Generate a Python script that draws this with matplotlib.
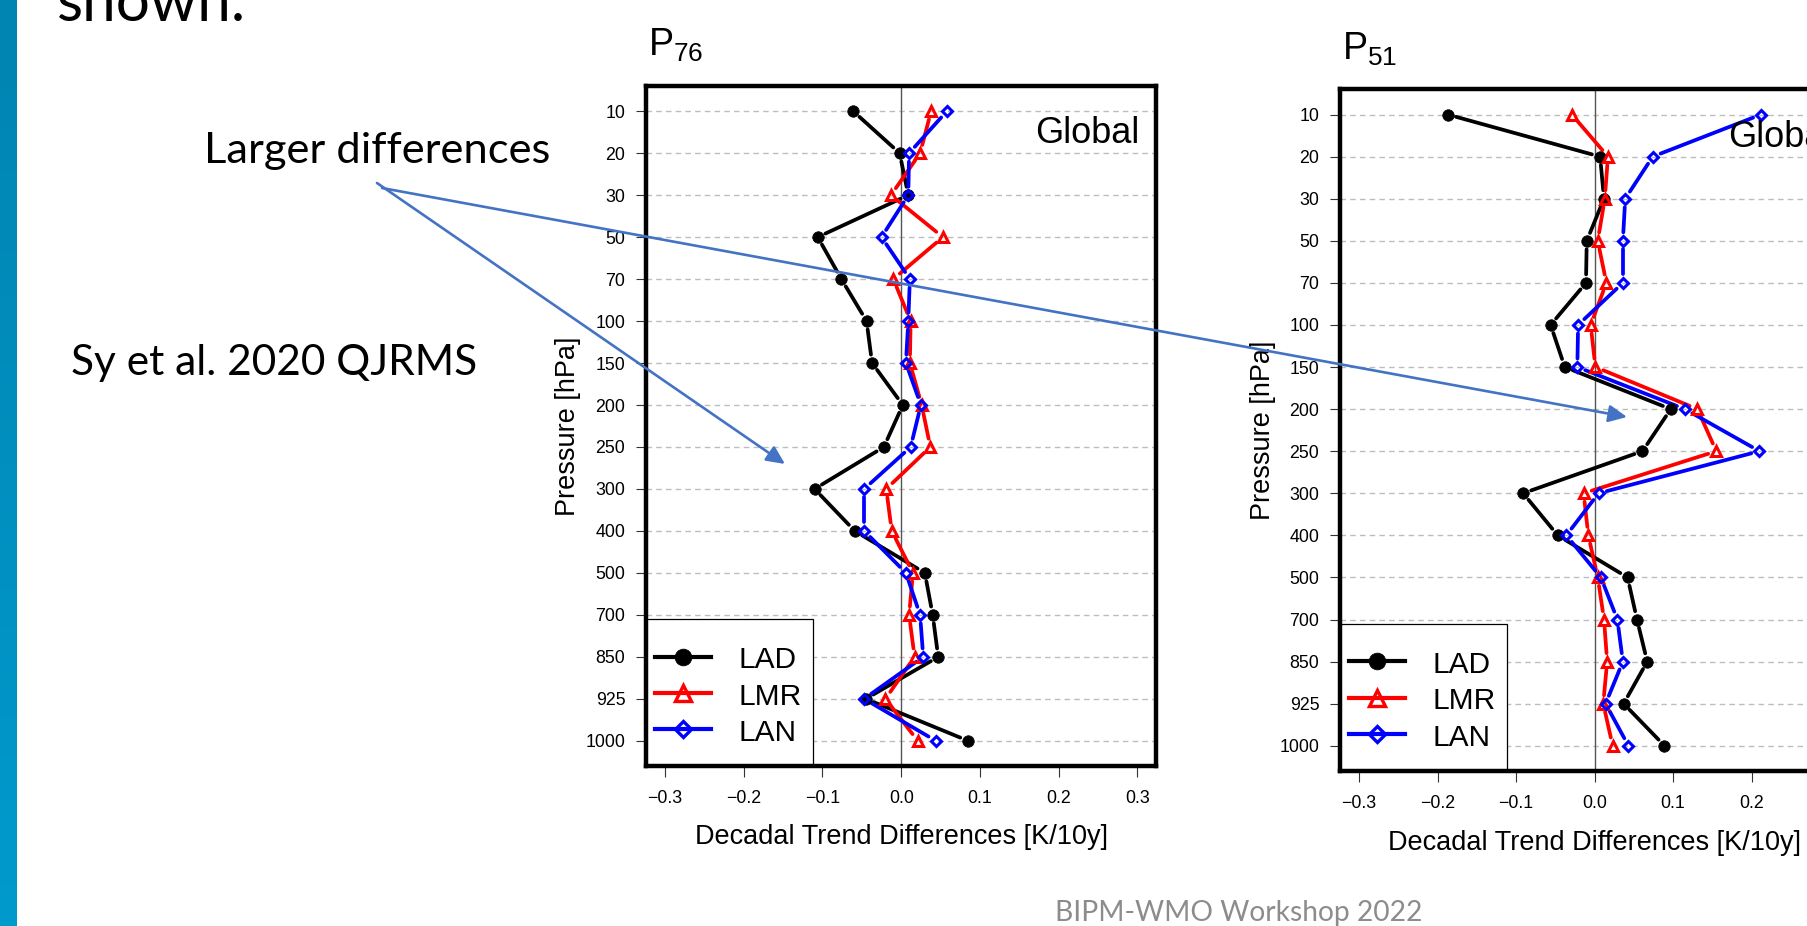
import numpy as np
import matplotlib
matplotlib.use("Agg")
import matplotlib.pyplot as plt
from matplotlib.collections import LineCollection
from matplotlib.patches import Rectangle, FancyArrowPatch
from matplotlib.colors import LinearSegmentedColormap

plt.rcParams['font.family'] = ['Liberation Sans', 'DejaVu Sans']

# pressure levels (hPa), top to bottom
levels = [10, 20, 30, 50, 70, 100, 150, 200, 250, 300, 400, 500, 700, 850, 925, 1000]

# decadal trend differences [K/10y]
p76_lad = [-0.061, -0.002, 0.009, -0.106, -0.076, -0.044, -0.037, 0.002,
           -0.022, -0.110, -0.059, 0.030, 0.040, 0.047, -0.045, 0.085]
p76_lmr = [0.038, 0.024, -0.013, 0.053, -0.010, 0.012, 0.011, 0.026,
           0.037, -0.019, -0.012, 0.015, 0.010, 0.017, -0.020, 0.021]
p76_lan = [0.058, 0.010, 0.009, -0.025, 0.011, 0.009, 0.006, 0.025,
           0.012, -0.047, -0.047, 0.006, 0.024, 0.028, -0.047, 0.044]

p51_lad = [-0.187, 0.007, 0.012, -0.010, -0.011, -0.056, -0.038, 0.097,
           0.061, -0.091, -0.047, 0.042, 0.054, 0.067, 0.037, 0.089]
p51_lmr = [-0.029, 0.017, 0.013, 0.004, 0.015, -0.005, 0.001, 0.131,
           0.155, -0.014, -0.008, 0.004, 0.012, 0.016, 0.011, 0.023]
p51_lan = [0.212, 0.074, 0.039, 0.036, 0.036, -0.021, -0.022, 0.115,
           0.210, 0.005, -0.036, 0.008, 0.029, 0.036, 0.014, 0.043]

names = ['LAD', 'LMR', 'LAN']
colors = ['black', 'red', 'blue']
markers = ['o', '^', 'D']
msizes = [8.3, 7.6, 5.4]
mfaces = ['black', 'none', 'none']
medges = [0.5, 2.2, 2.2]

W, H = 1808, 926
fig = plt.figure(figsize=(W / 100, H / 100), dpi=100)
fig.patch.set_facecolor('white')


def rect(x0, y0, x1, y1):
    # pixel box -> figure fraction
    return [x0 / W, 1 - y1 / H, (x1 - x0) / W, (y1 - y0) / H]


def gap_segments(ax, x, y, gap):
    # R type="b": lines stop short of the points
    pts = ax.transData.transform(np.column_stack([x, y]))
    inv = ax.transData.inverted()
    segs = []
    for p0, p1 in zip(pts[:-1], pts[1:]):
        d = p1 - p0
        L = np.hypot(d[0], d[1])
        if L <= 2 * gap:
            continue
        u = d / L
        segs.append(inv.transform(np.array([p0 + u * gap, p1 - u * gap])))
    return segs


def panel(ax, series, sub):
    y = np.arange(len(levels))
    ax.set_xlim(-0.324, 0.324)
    ax.set_ylim(len(levels) - 1 + 0.6, -0.6)
    for yy in y:
        ax.axhline(yy, color='#bdbdbd', lw=1.0, ls=(0, (4, 3)), zorder=1)
    ax.axvline(0, color='#555555', lw=1.0, zorder=1.5)

    for vals, c, m, ms, mf, mw in zip(series, colors, markers, msizes, mfaces, medges):
        lc = LineCollection(gap_segments(ax, vals, y, 8.5), colors=c,
                            linewidths=2.7, capstyle='round', zorder=2)
        ax.add_collection(lc, autolim=False)
        ax.plot(vals, y, ls='none', marker=m, ms=ms, mfc=mf, mec=c, mew=mw, zorder=3)

    ax.set_yticks(y)
    ax.set_yticklabels([str(l) for l in levels])
    ax.set_xticks([-0.3, -0.2, -0.1, 0.0, 0.1, 0.2, 0.3])
    ax.tick_params(axis='y', length=7, width=0.8, pad=8, labelsize=12.8, color='#333333')
    ax.tick_params(axis='x', length=8, width=0.8, pad=9.5, labelsize=12.8, color='#333333')
    for s in ax.spines.values():
        s.set_linewidth(3.2)
        s.set_zorder(7)

    ax.set_xlabel('Decadal Trend Differences [K/10y]', fontsize=19.5)
    ax.xaxis.set_label_coords(0.5, -0.086)
    ax.set_ylabel('Pressure [hPa]', fontsize=19.5)
    ax.yaxis.set_label_coords(-0.127, 0.5)

    ax.text(0.004, 1 + 30 / 680, r'$\mathregular{P_{%s}}$' % sub, transform=ax.transAxes,
            fontsize=27, ha='left', va='baseline')
    ax.text(0.967, 0.916, 'Global', transform=ax.transAxes, fontsize=26,
            ha='right', va='baseline')

    # legend box in the lower left corner
    ax.add_patch(Rectangle((0, 0), 0.328, 0.216, transform=ax.transAxes,
                           facecolor='white', edgecolor='black', lw=0.9, zorder=4))
    rows = [0.161, 0.107, 0.054]
    for r, n, c, m, ms, mf, mw in zip(rows, names, colors, markers, msizes, mfaces, medges):
        ax.plot([0.0176, 0.128], [r, r], transform=ax.transAxes, color=c, lw=3.0, zorder=5)
        ax.plot([0.0728], [r], transform=ax.transAxes, ls='none', marker=m, ms=ms * 1.45,
                mfc=mf, mec=c, mew=mw * 1.1, zorder=6)
        ax.text(0.182, r - 0.0166, n, transform=ax.transAxes, fontsize=21.5,
                ha='left', va='baseline', zorder=6)


ax1 = fig.add_axes(rect(646.1, 86, 1156.3, 766))
panel(ax1, [p76_lad, p76_lmr, p76_lan], '76')

ax2 = fig.add_axes(rect(1340.2, 89.3, 1849, 771))
panel(ax2, [p51_lad, p51_lmr, p51_lan], '51')

# slide decoration: blue bar on the left
bar = fig.add_axes(rect(0, 0, 17, H))
cmap = LinearSegmentedColormap.from_list('bar', ['#0084b1', '#009acd'])
bar.imshow(np.linspace(0, 1, 256).reshape(-1, 1), aspect='auto', cmap=cmap)
bar.axis('off')

renderer = fig.canvas.get_renderer()


def fit_text(x, y, s, width, **kw):
    t = fig.text(x / W, 1 - y / H, s, ha='left', va='baseline', **kw)
    w = t.get_window_extent(renderer).width
    t.set_fontsize(t.get_fontsize() * width / w)
    return t


fit_text(57, 21, 'shown.', 189, family='Lato', fontsize=40)
fit_text(204, 163, 'Larger differences', 346, family='Lato', fontsize=30)
fit_text(71, 375, 'Sy et al. 2020 QJRMS', 405, family='Lato', fontsize=30)
fit_text(1055, 921, 'BIPM-WMO Workshop 2022', 366, family='Lato', fontsize=20, color='#8c8c8c')

# annotation arrows
arrow_color = '#4472C4'
for (x0, y0), (x1, y1) in [((377, 183), (785, 464)), ((382, 188), (1627, 417))]:
    fig.add_artist(FancyArrowPatch((x0 / W, 1 - y0 / H), (x1 / W, 1 - y1 / H),
                                   transform=fig.transFigure,
                                   arrowstyle='-|>,head_length=0.85,head_width=0.4',
                                   mutation_scale=13, color=arrow_color, lw=1.9,
                                   shrinkA=0, shrinkB=0, zorder=10))

fig.savefig('out.png', dpi=100, facecolor='white')
